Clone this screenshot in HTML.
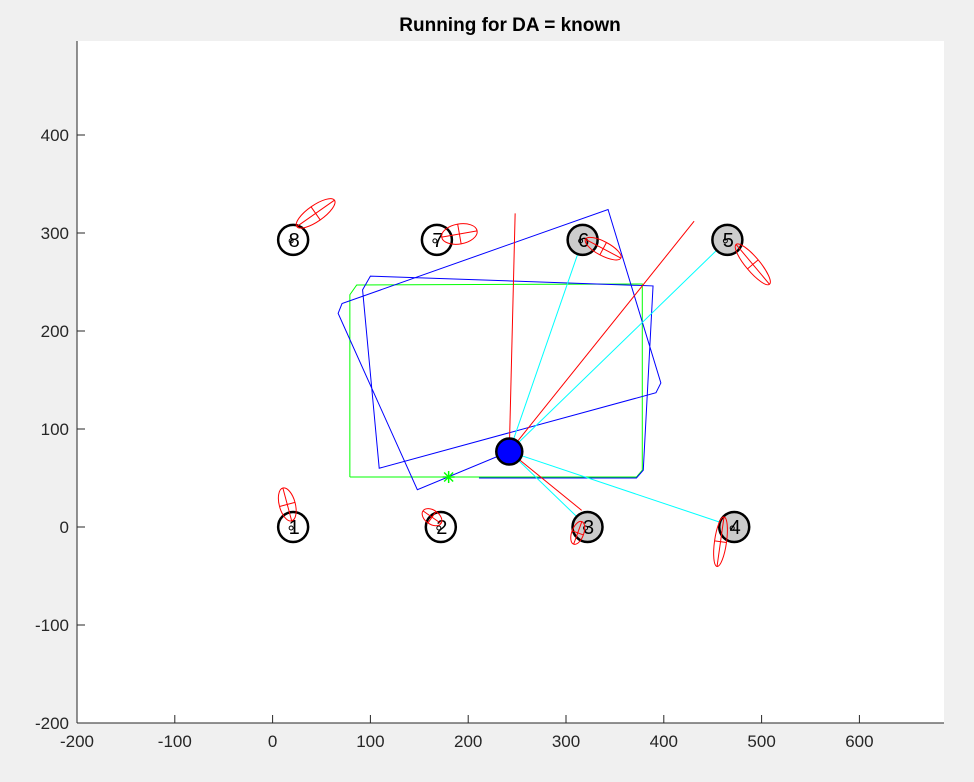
<!DOCTYPE html>
<html><head><meta charset="utf-8"><style>
body{margin:0;background:#f0f0f0;}
svg{display:block;font-family:"Liberation Sans",sans-serif;}
</style></head><body>
<svg id="c" width="974" height="782"></svg>
<script>
const xTicks=[-200,-100,0,100,200,300,400,500,600];
const yTicks=[-200,-100,0,100,200,300,400];
const lmIds=[1,2,3,4,5,6,7,8];
const lmX=[21,172,322,472,465,317,168,21];
const lmY=[0,0,0,0,293,293,293,293];
const lmSeen=[0,0,1,1,1,1,0,0];
const ellX=[15,163,312,458,491,338,191,44];
const ellY=[23,10,-6,-15,268,284,299,320];
const ellA=[17,11,12,25,26,20,18,23];
const ellB=[8,7,6,6,7,7,10,8];
const ellAng=[75,35,-70,-82,50,28,-10,-35];
const robotX=[242], robotY=[77];
const greenX=[79,79,86,378,378,372,79];
const greenY=[51,237,247,248,58,51,51];
const blueX=[242,148,67,71,343,397,392,109,92,100,389,379,372,211];
const blueY=[77,38,218,228,324,147,137,60,242,256,246,58,50,50];
const redX=[248,431,316];
const redY=[320,312,17];
const starX=[180], starY=[51];

const L=77,R=944,T=41,B=723;
const X=v=>272.6+0.978*v, Y=v=>527-0.98*v;
const svg=document.getElementById('c');
const NS='http://www.w3.org/2000/svg';
function mk(t,a,p){const e=document.createElementNS(NS,t);for(const k in a)e.setAttribute(k,a[k]);(p||svg).appendChild(e);return e;}
const bg=mk('rect',{x:L,y:T,width:R-L,height:B-T,fill:'#fff'});


const ttl=mk('text',{x:510,y:31,'text-anchor':'middle','font-size':19,'font-weight':'bold',fill:'#000'});
ttl.textContent='Running for DA = known';


const xa=mk('line',{x1:L,y1:B,x2:R,y2:B,stroke:'#262626'});


const ya=mk('line',{x1:L,y1:T,x2:L,y2:B,stroke:'#262626'});


xTicks.forEach(v=>{
 mk('line',{x1:X(v),y1:B,x2:X(v),y2:B-8,stroke:'#262626'});
 const t=mk('text',{x:X(v),y:B+24,'text-anchor':'middle','font-size':17,fill:'#262626'});t.textContent=v;
 
 
});
yTicks.forEach(v=>{
 mk('line',{x1:L,y1:Y(v),x2:L+8,y2:Y(v),stroke:'#262626'});
 const t=mk('text',{x:L-8,y:Y(v)+6,'text-anchor':'end','font-size':17,fill:'#262626'});t.textContent=v;
 
 
});
const pts=(xs,ys)=>xs.map((x,i)=>X(x)+','+Y(ys[i])).join(' ');
const g=mk('polyline',{points:pts(greenX,greenY),fill:'none',stroke:'#0f0','stroke-width':1});


const b=mk('polyline',{points:pts(blueX,blueY),fill:'none',stroke:'#00f','stroke-width':1});


redX.forEach((x,i)=>{
 const l=mk('line',{x1:X(robotX[0]),y1:Y(robotY[0]),x2:X(x),y2:Y(redY[i]),stroke:'#f00','stroke-width':1});
 
 
});
lmIds.forEach((id,i)=>{
 if(!lmSeen[i])return;
 const l=mk('line',{x1:X(robotX[0]),y1:Y(robotY[0]),x2:X(lmX[i]),y2:Y(lmY[i]),stroke:'#0ff','stroke-width':1});
 
 
});
lmIds.forEach((id,i)=>{
 const c=mk('circle',{cx:X(lmX[i]),cy:Y(lmY[i]),r:15,fill:lmSeen[i]?'#ccc':'#fff',stroke:'#000','stroke-width':2.5});
 
 
 const t=mk('text',{x:X(lmX[i])+1,y:Y(lmY[i])+7,'text-anchor':'middle','font-size':20,fill:'#000'});t.textContent=id;
 
 
 mk('circle',{cx:X(lmX[i])-2,cy:Y(lmY[i])+1,r:2,fill:'none',stroke:'#000','stroke-width':1});
});
ellX.forEach((x,i)=>{
 const gg=mk('g',{transform:`translate(${X(x)},${Y(ellY[i])}) rotate(${ellAng[i]})`});
 
 
 mk('ellipse',{cx:0,cy:0,rx:ellA[i],ry:ellB[i],fill:'none',stroke:'#f00','stroke-width':1},gg);
 mk('line',{x1:-ellA[i],y1:0,x2:ellA[i],y2:0,stroke:'#f00','stroke-width':1},gg);
 mk('line',{x1:0,y1:-ellB[i],x2:0,y2:ellB[i],stroke:'#f00','stroke-width':1},gg);
});
const rb=mk('circle',{cx:X(robotX[0]),cy:Y(robotY[0]),r:13,fill:'#00f',stroke:'#000','stroke-width':2.5});


const sg=mk('g',{transform:`translate(${X(starX[0])},${Y(starY[0])})`,stroke:'#0f0','stroke-width':1.5});


mk('line',{x1:-6,y1:0,x2:6,y2:0},sg);
mk('line',{x1:0,y1:-6,x2:0,y2:6},sg);
mk('line',{x1:-4.5,y1:-4.5,x2:4.5,y2:4.5},sg);
mk('line',{x1:-4.5,y1:4.5,x2:4.5,y2:-4.5},sg);
</script>
</body></html>
